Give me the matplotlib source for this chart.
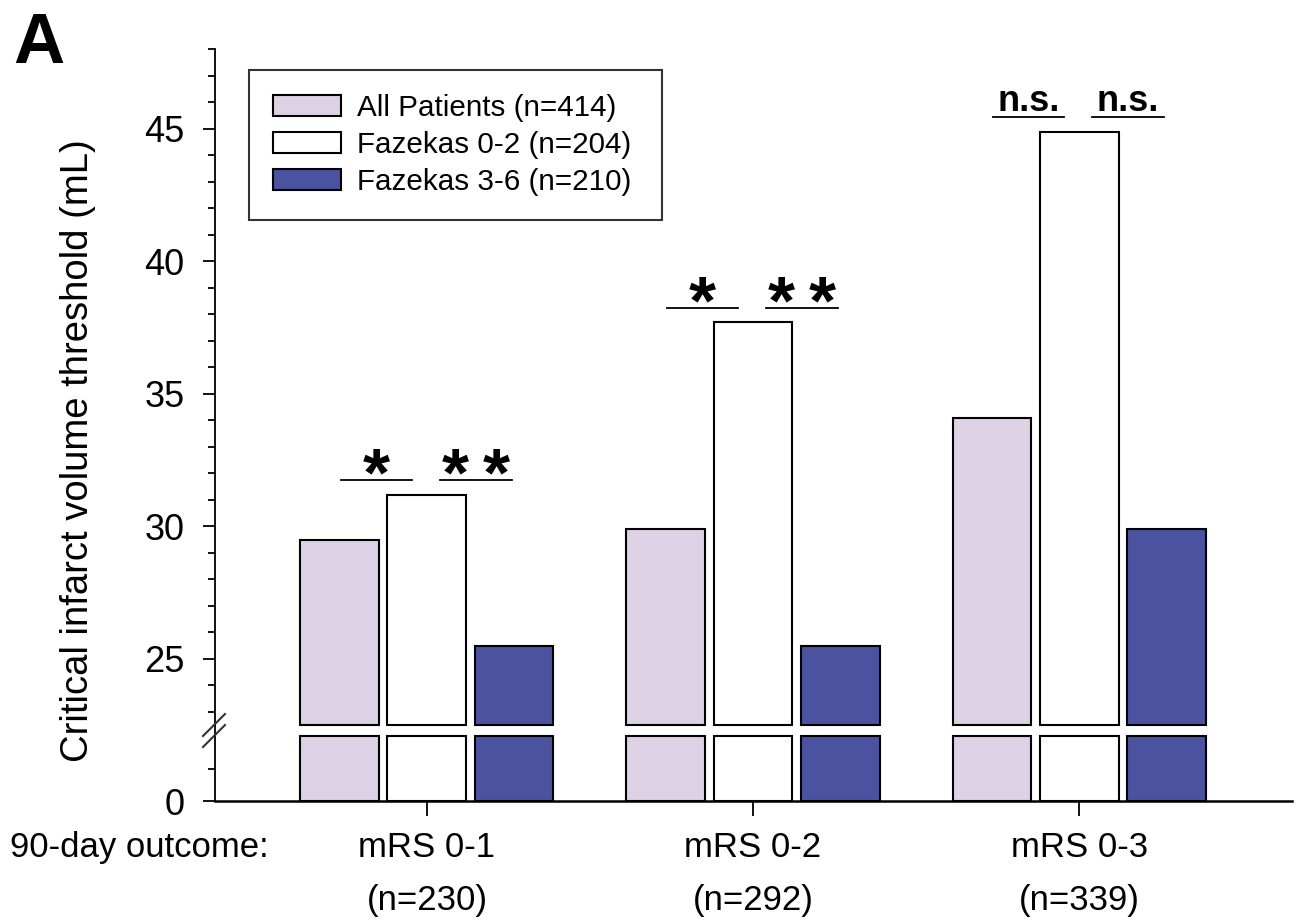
import numpy as np
import matplotlib
matplotlib.use("Agg")
import matplotlib.pyplot as plt
from matplotlib.transforms import blended_transform_factory
from matplotlib.lines import Line2D

plt.rcParams['font.family'] = ['Liberation Sans', 'DejaVu Sans']

# ---- data ----
outcomes = ["mRS 0-1", "mRS 0-2", "mRS 0-3"]
outcome_n = ["(n=230)", "(n=292)", "(n=339)"]
series_names = ["All Patients (n=414)", "Fazekas 0-2 (n=204)", "Fazekas 3-6 (n=210)"]
all_patients = [29.5, 29.9, 34.1]
fazekas_02 = [31.2, 37.7, 44.9]
fazekas_36 = [25.5, 25.5, 29.9]
sig_left = ["*", "*", "n.s."]
sig_right = ["**", "**", "n.s."]
upper_ticks = [25, 30, 35, 40, 45]

colors = ["#DDD1E6", "#FFFFFF", "#4B52A0"]
W, H = 1296, 921
fig = plt.figure(figsize=(W / 100, H / 100), dpi=100)

def fx(px):
    return px / W

def fy(py):
    return 1 - py / H

left, right = 215, 1292
ax_up = fig.add_axes([fx(left), fy(725), fx(right - left), fy(49.5) - fy(725)])
ax_lo = fig.add_axes([fx(left), fy(801), fx(right - left), fy(736) - fy(801)])

xlim = (-0.650, 2.653)
up_lo, up_hi = 22.5, 48
lo_lo, lo_hi = 0, 2

x = np.arange(len(outcomes))
bw = 0.242
offs = [-0.267, 0.0, 0.267]
series = [all_patients, fazekas_02, fazekas_36]

for s, vals, c, off in zip(series_names, series, colors, offs):
    vals = np.array(vals)
    ax_up.bar(x + off, vals - up_lo, bottom=up_lo, width=bw, color=c,
              edgecolor="black", linewidth=1.5, clip_on=False, label=s)
    ax_lo.bar(x + off, np.minimum(vals, lo_hi), width=bw, color=c,
              edgecolor="black", linewidth=1.5, clip_on=False)

for ax in (ax_up, ax_lo):
    ax.set_xlim(*xlim)
    ax.spines['top'].set_visible(False)
    ax.spines['right'].set_visible(False)
    ax.spines['left'].set_linewidth(1.3)
    ax.spines['bottom'].set_linewidth(1.8)
    ax.tick_params(axis='y', which='major', length=9, width=1.3, labelsize=26, pad=13)
    ax.tick_params(axis='y', which='minor', length=5, width=1.3)

ax_up.spines['bottom'].set_visible(False)
ax_up.set_ylim(up_lo, up_hi)
ax_up.set_yticks(upper_ticks)
ax_up.set_yticks(np.arange(23, 49, 1), minor=True)
ax_up.set_xticks([])

ax_lo.set_ylim(lo_lo, lo_hi)
ax_lo.set_yticks([0])
ax_lo.set_yticks([1], minor=True)
ax_lo.set_xticks(x)
ax_lo.set_xticklabels([])
ax_lo.tick_params(axis='x', length=11, width=1.3, direction='out')

# continuous spine through gap
fig.add_artist(Line2D([fx(left), fx(left)], [fy(736), fy(725)], color='black', lw=1.3))
# break marks
for dy in (0, 11):
    fig.add_artist(Line2D([fx(203), fx(225)], [fy(736 + dy), fy(714 + dy)], color='#333333', lw=1.5))

# significance lines and labels
line_spans = [(-0.265, -0.045), (0.04, 0.26)]
star_sep = 0.062
for i in range(len(outcomes)):
    yl = fazekas_02[i] + 0.55
    for (a, b), lab in zip(line_spans, (sig_left[i], sig_right[i])):
        xc = x[i] + (a + b) / 2
        ax_up.plot([x[i] + a, x[i] + b], [yl, yl], color='black', lw=1.3, clip_on=False)
        if lab == "n.s.":
            ax_up.text(xc, yl + 0.23, lab, ha='center', va='baseline',
                       fontsize=26, fontweight='bold')
        else:
            n = len(lab)
            for k in range(n):
                xs = xc + (k - (n - 1) / 2) * 2 * star_sep
                ax_up.text(xs, yl - 1.12, "*", ha='center', va='bottom',
                           fontsize=50, fontweight='bold')

# legend
fs_leg = 21.3
ax_w = right - left
ax_h = 725 - 49.5
leg = ax_up.legend(loc='upper left',
                   bbox_to_anchor=((249 - left) / ax_w, 1 - (70 - 49.5) / ax_h,
                                   (662 - 249) / ax_w, 0.0),
                   mode='expand',
                   fontsize=fs_leg, frameon=True, fancybox=False, edgecolor='black',
                   handlelength=2.3, handleheight=0.74, handletextpad=0.54,
                   labelspacing=0.31, borderpad=0.8, borderaxespad=0)
leg.get_frame().set_linewidth(1.5)

# x labels
tr = blended_transform_factory(ax_lo.transData, fig.transFigure)
for i in range(len(outcomes)):
    ax_lo.text(x[i], fy(857), outcomes[i], transform=tr, ha='center', va='baseline', fontsize=25)
    ax_lo.text(x[i], fy(910), outcome_n[i], transform=tr, ha='center', va='baseline', fontsize=25)
fig.text(fx(10), fy(857), "90-day outcome:", ha='left', va='baseline', fontsize=25)

fig.text(fx(88), fy(451), "Critical infarct volume threshold (mL)", rotation=90,
         rotation_mode='anchor', ha='center', va='baseline', fontsize=27.5)
fig.text(fx(13), fy(63), "A", ha='left', va='baseline', fontsize=51, fontweight='bold')

fig.savefig("out.png", dpi=100)
